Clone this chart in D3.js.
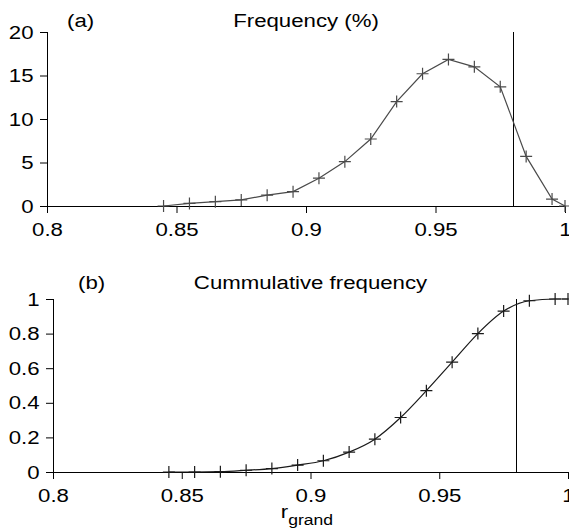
<!DOCTYPE html>
<html>
<head>
<meta charset="utf-8">
<script src="https://cdn.jsdelivr.net/npm/d3@7/dist/d3.min.js"></script>
<style>
  body { margin: 0; background: #fff; }
  text { font-family: "Liberation Sans", Arial, sans-serif; font-size: 19px; fill: #000; }
  .axis path, .axis line { stroke: #000; stroke-width: 1; }
</style>
</head>
<body>
<div class="chart"></div>
<script>
// data
var rGrand = [0.845, 0.855, 0.865, 0.875, 0.885, 0.895, 0.905, 0.915, 0.925,
              0.935, 0.945, 0.955, 0.965, 0.975, 0.985, 0.995, 1.0];
var freqPct = [0, 0.3, 0.5, 0.7, 1.25, 1.65, 3.2, 5.1, 7.7,
               12.0, 15.2, 16.85, 16.0, 13.7, 5.7, 0.8, 0];
var cumFreq = [0, 0, 0.002, 0.01, 0.02, 0.04, 0.065, 0.115, 0.19,
               0.315, 0.47, 0.635, 0.80, 0.93, 0.99, 1.0, 1.0];
var xTicks = [0.8, 0.85, 0.9, 0.95, 1];
var yTicksA = [0, 5, 10, 15, 20];
var yTicksB = [0, 0.2, 0.4, 0.6, 0.8, 1];
var threshold = 0.98;

var svgWidth = 569;
var svgHeight = 530;
var sx = 1.17; // the source text is stretched sideways

var svg = d3.select(".chart")
  .append("svg")
  .attr("width", svgWidth)
  .attr("height", svgHeight);

var plus = "M-6,0H6M0,-6V6";

function drawPanel(opt) {
  var x = d3.scaleLinear().domain([0.8, 1]).range(opt.xr);
  var y = d3.scaleLinear().domain(opt.yd).range(opt.yr);
  var g = svg.append("g");

  // x axis
  var xa = g.append("g")
    .attr("class", "axis")
    .attr("transform", `translate(0, ${opt.yr[0]})`)
    .call(d3.axisBottom(x).tickValues(xTicks).tickFormat(d3.format(""))
      .tickSize(7).tickSizeOuter(0).tickPadding(10));
  xa.selectAll("text").attr("transform", `scale(${sx},1)`)
    .style("font-size", "19px");

  // y axis
  var ya = g.append("g")
    .attr("class", "axis")
    .attr("transform", `translate(${opt.xr[0]}, 0)`)
    .call(d3.axisLeft(y).tickValues(opt.yTicks).tickFormat(d3.format(""))
      .tickSize(7).tickSizeOuter(0).tickPadding(4.5));
  ya.selectAll("text").attr("transform", `scale(${sx},1)`)
    .style("font-size", "19px");
  ya.select(".domain").remove();
  g.append("line")
    .attr("x1", opt.xr[0] + 0.5).attr("x2", opt.xr[0] + 0.5)
    .attr("y1", opt.yr[1]).attr("y2", opt.yr[0])
    .attr("stroke", "#000");

  // threshold line
  g.append("line")
    .attr("x1", Math.round(x(threshold)) + 0.5)
    .attr("x2", Math.round(x(threshold)) + 0.5)
    .attr("y1", y(opt.yd[1])).attr("y2", y(0))
    .attr("stroke", "#000");

  var pts = rGrand.map((r, i) => ({ r: r, v: opt.vals[i] }));

  var line = d3.line()
    .x(d => x(d.r))
    .y(d => y(d.v))
    .curve(opt.curve);

  g.append("path")
    .datum(pts)
    .attr("d", line)
    .attr("fill", "none")
    .attr("stroke", opt.color)
    .attr("stroke-width", 1.2);

  g.selectAll(".mk")
    .data(pts)
    .enter()
    .append("path")
    .attr("class", "mk")
    .attr("transform", d => `translate(${x(d.r)}, ${y(d.v)})`)
    .attr("d", plus)
    .attr("stroke", opt.color)
    .attr("stroke-width", 1.2);

  // titles
  g.append("text")
    .attr("transform", `translate(${opt.xr[0] + opt.tagOff}, ${opt.titleY}) scale(${sx},1)`)
    .text(opt.tag);
  g.append("text")
    .attr("transform", `translate(${(opt.xr[0] + opt.xr[1]) / 2}, ${opt.titleY}) scale(${sx},1)`)
    .attr("text-anchor", "middle")
    .text(opt.title);
}

drawPanel({
  xr: [47, 565], yr: [206, 32], yd: [0, 20], yTicks: yTicksA,
  vals: freqPct, curve: d3.curveLinear, color: "#4a4a4a",
  tag: "(a)", tagOff: 20, title: "Frequency (%)", titleY: 27
});

drawPanel({
  xr: [53, 568], yr: [472, 299], yd: [0, 1], yTicks: yTicksB,
  vals: cumFreq, curve: d3.curveMonotoneX, color: "#1a1a1a",
  tag: "(b)", tagOff: 25, title: "Cummulative frequency", titleY: 289
});

// x axis label
var lab = svg.append("text")
  .attr("transform", `translate(307, 518) scale(${sx},1)`)
  .attr("text-anchor", "middle");
lab.append("tspan").text("r");
lab.append("tspan").attr("dy", 7).style("font-size", "15px").text("grand");
</script>
</body>
</html>
